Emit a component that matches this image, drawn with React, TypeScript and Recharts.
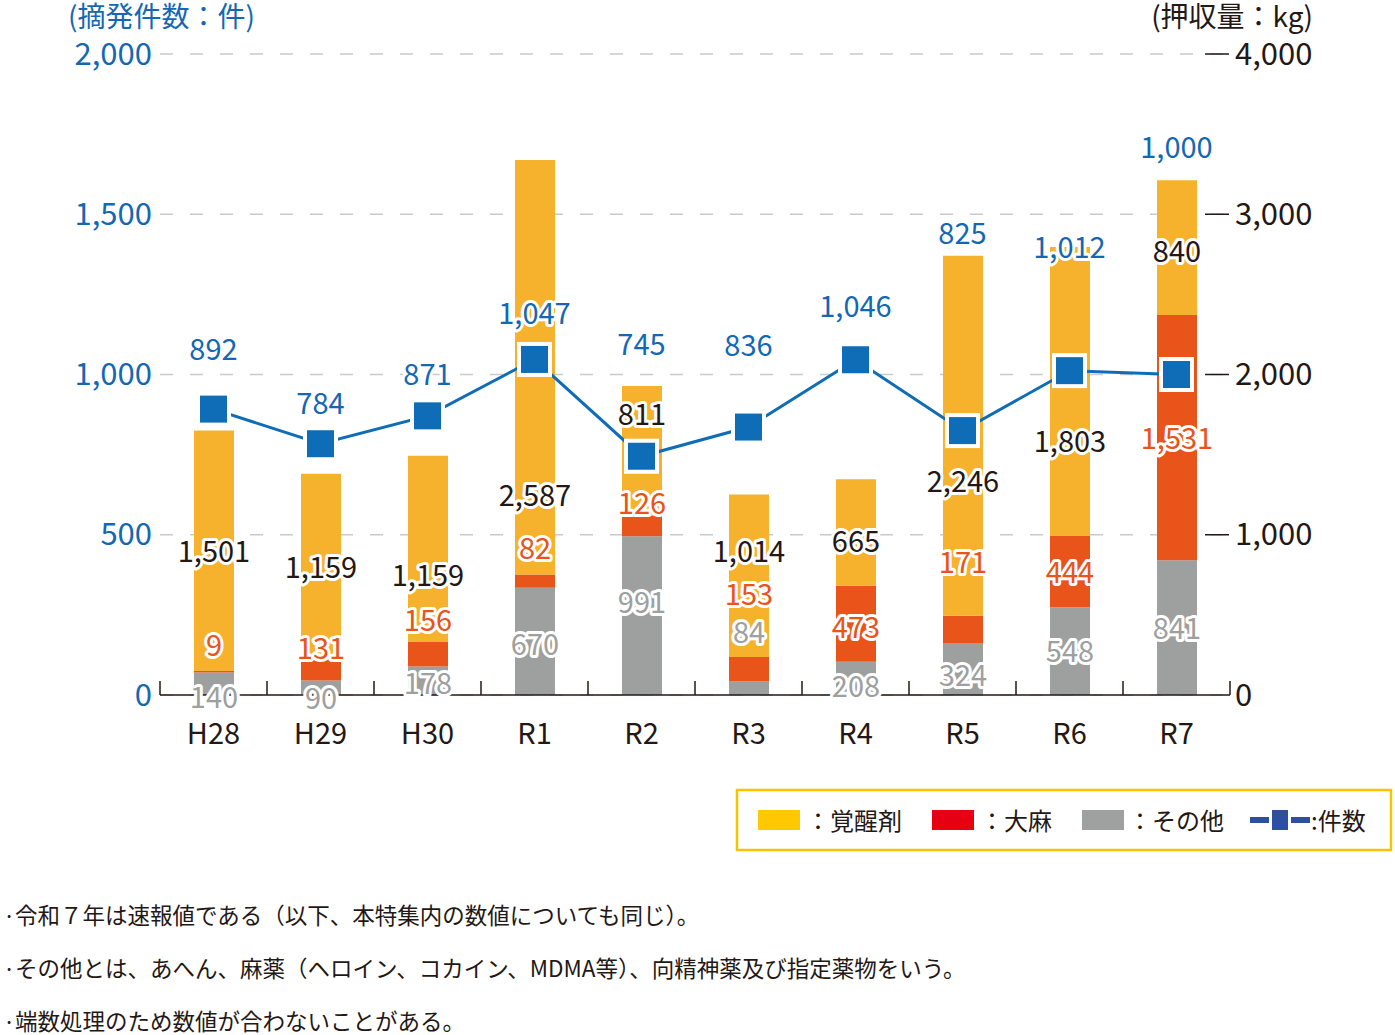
import React from "react";
import {
  ComposedChart,
  Bar,
  Line,
  XAxis,
  YAxis,
  CartesianGrid,
  LabelList,
} from "recharts";

const years = ["H28", "H29", "H30", "R1", "R2", "R3", "R4", "R5", "R6", "R7"];
// 摘発件数（件）
const cases = [892, 784, 871, 1047, 745, 836, 1046, 825, 1012, 1000];
// 押収量（kg）
const stimulants = [1501, 1159, 1159, 2587, 811, 1014, 665, 2246, 1803, 840];
const cannabis = [9, 131, 156, 82, 126, 153, 473, 171, 444, 1531];
const others = [140, 90, 178, 670, 991, 84, 208, 324, 548, 841];

const leftTicks = [0, 500, 1000, 1500, 2000];
const rightTicks = [0, 1000, 2000, 3000, 4000];

const notes = [
  "令和７年は速報値である（以下、本特集内の数値についても同じ）。",
  "その他とは、あへん、麻薬（ヘロイン、コカイン、MDMA等）、向精神薬及び指定薬物をいう。",
  "端数処理のため数値が合わないことがある。",
];

// label nudges (px) so the numbers sit where the original put them
const casesDy = [-60, -41, -42, -46, -112, -82, -54, -198, -124, -228];
const stimDy = [0, 0, 26, 128, -37, -25, 8, 45, 49, 3];
const canDy = [-27, -22, -34, -33, -23, -75, 3, -67, 0, 0];
const otherDy = [13, 10, 2, 3, -14, -56, 8, 6, 0, 0];

const data = years.map((name, i) => ({
  name,
  cases: cases[i],
  stimulants: stimulants[i],
  cannabis: cannabis[i],
  others: others[i],
}));

const FONT = "'Noto Sans CJK JP', 'Noto Sans', sans-serif";
const INK = "#231815";
const BLUE = "#1468b3";
const LINE_BLUE = "#0f6db8";
const YELLOW = "#f6b22c";
const ORANGE = "#e8541a";
const GRAY = "#9e9f9f";
const STEP = 107;

const fmt = (v: number) => v.toLocaleString("en-US");

const box = (p: any) => {
  const vb = p.viewBox || {};
  return {
    x: vb.x ?? p.x,
    y: vb.y ?? p.y,
    w: vb.width ?? p.width ?? 0,
    h: vb.height ?? p.height ?? 0,
  };
};

const outlined = (x: number, y: number, text: string, color: string) => (
  <text
    x={x}
    y={y - 2}
    textAnchor="middle"
    dominantBaseline="central"
    fontSize={29}
    fontFamily={FONT}
    fill={color}
    stroke="#fff"
    strokeWidth={6}
    strokeLinejoin="round"
    paintOrder="stroke"
  >
    {text}
  </text>
);

const segLabel = (values: number[], dy: number[], color: string) => (p: any) => {
  const b = box(p);
  const i = p.index;
  return outlined(b.x + b.w / 2, b.y + b.h / 2 + dy[i], fmt(values[i]), color);
};

const caseLabel = (p: any) => {
  const b = box(p);
  return outlined(b.x, b.y + casesDy[p.index], fmt(cases[p.index]), BLUE);
};

const XTick = (p: any) => {
  const half = STEP / 2;
  const last = p.payload.value === years[years.length - 1];
  return (
    <g>
      <line x1={p.x - half} x2={p.x - half} y1={p.y - 14} y2={p.y} stroke={INK} strokeWidth={1.5} />
      {last && <line x1={p.x + half} x2={p.x + half} y1={p.y - 14} y2={p.y} stroke={INK} strokeWidth={1.5} />}
      <text x={p.x} y={p.y + 36} textAnchor="middle" dominantBaseline="central" fontSize={29} fontFamily={FONT} fill={INK}>
        {p.payload.value}
      </text>
    </g>
  );
};

const LeftTick = (p: any) => (
  <text x={p.x - 8} y={p.y - 3} textAnchor="end" dominantBaseline="central" fontSize={31} fontFamily={FONT} fill={BLUE}>
    {fmt(p.payload.value)}
  </text>
);

const RightTick = (p: any) => (
  <g>
    {p.payload.value > 0 && (
      <line x1={p.x - 25} x2={p.x - 1} y1={p.y} y2={p.y} stroke={INK} strokeWidth={1.5} />
    )}
    <text x={p.x + 5} y={p.y - 3} textAnchor="start" dominantBaseline="central" fontSize={31} fontFamily={FONT} fill={INK}>
      {fmt(p.payload.value)}
    </text>
  </g>
);

const SquareDot = (p: any) => (
  <rect
    key={`dot-${p.index}`}
    x={p.cx - 15.5}
    y={p.cy - 15.5}
    width={31}
    height={31}
    fill={LINE_BLUE}
    stroke="#fff"
    strokeWidth={4}
  />
);

const App = () => {
  return (
    <div style={{ position: "absolute", left: 0, top: 0, width: 1395, height: 1035, fontFamily: FONT }}>
      <ComposedChart width={1395} height={755} data={data} margin={{ top: 54, right: 0, bottom: 0, left: 0 }}>
        <CartesianGrid xAxisId="main" yAxisId="left" vertical={false} stroke="#c9caca" strokeWidth={1.5} strokeDasharray="13 17" />
        <XAxis
          xAxisId="main"
          dataKey="name"
          height={60}
          interval={0}
          tickSize={0}
          tickMargin={0}
          tickLine={false}
          axisLine={{ stroke: INK, strokeWidth: 1.5 }}
          tick={<XTick />}
        />
        <XAxis xAxisId="lab" dataKey="name" orientation="top" height={0} hide />
        <YAxis
          yAxisId="left"
          domain={[0, 2000]}
          ticks={leftTicks}
          width={160}
          tickSize={0}
          tickMargin={0}
          axisLine={false}
          tickLine={false}
          tick={<LeftTick />}
        />
        <YAxis
          yAxisId="right"
          orientation="right"
          domain={[0, 4000]}
          ticks={rightTicks}
          width={165}
          tickSize={0}
          tickMargin={0}
          axisLine={false}
          tickLine={false}
          tick={<RightTick />}
        />
        <Bar xAxisId="main" yAxisId="right" dataKey="others" stackId="kg" fill={GRAY} barSize={40} isAnimationActive={false} />
        <Bar xAxisId="main" yAxisId="right" dataKey="cannabis" stackId="kg" fill={ORANGE} barSize={40} isAnimationActive={false} />
        <Bar xAxisId="main" yAxisId="right" dataKey="stimulants" stackId="kg" fill={YELLOW} barSize={40} isAnimationActive={false} />
        <Line
          xAxisId="main"
          yAxisId="left"
          dataKey="cases"
          stroke={LINE_BLUE}
          strokeWidth={3}
          dot={SquareDot}
          activeDot={false}
          isAnimationActive={false}
        >
          <LabelList dataKey="cases" content={caseLabel} />
        </Line>
        {/* transparent copies of the stack, drawn last so their labels stay on top */}
        <Bar xAxisId="lab" yAxisId="right" dataKey="others" stackId="lab" fill="transparent" barSize={40} isAnimationActive={false}>
          <LabelList dataKey="others" content={segLabel(others, otherDy, GRAY)} />
        </Bar>
        <Bar xAxisId="lab" yAxisId="right" dataKey="cannabis" stackId="lab" fill="transparent" barSize={40} isAnimationActive={false}>
          <LabelList dataKey="cannabis" content={segLabel(cannabis, canDy, ORANGE)} />
        </Bar>
        <Bar xAxisId="lab" yAxisId="right" dataKey="stimulants" stackId="lab" fill="transparent" barSize={40} isAnimationActive={false}>
          <LabelList dataKey="stimulants" content={segLabel(stimulants, stimDy, INK)} />
        </Bar>
      </ComposedChart>

      <svg
        width={1395}
        height={1035}
        style={{ position: "absolute", left: 0, top: 0, pointerEvents: "none" }}
        fontFamily={FONT}
      >
        <text x={68} y={15} dominantBaseline="central" fontSize={28} fill={BLUE}>
          (摘発件数：件)
        </text>
        <text x={1313} y={15} textAnchor="end" dominantBaseline="central" fontSize={28} fill={INK}>
          (押収量：kg)
        </text>

        <rect x={737} y={790} width={654} height={60} fill="#fff" stroke="#f8c300" strokeWidth={2.5} />
        <rect x={758} y={810} width={42} height={20} fill="#ffc800" />
        <text x={806} y={819} dominantBaseline="central" fontSize={24} fill={INK}>：覚醒剤</text>
        <rect x={932} y={810} width={42} height={20} fill="#e60012" />
        <text x={980} y={819} dominantBaseline="central" fontSize={24} fill={INK}>：大麻</text>
        <rect x={1082} y={810} width={42} height={20} fill="#9fa0a0" />
        <text x={1128} y={819} dominantBaseline="central" fontSize={24} fill={INK}>：その他</text>
        <rect x={1250} y={817} width={19} height={6} fill="#2e4fa0" />
        <rect x={1272} y={810} width={16} height={20} fill="#2e4fa0" />
        <rect x={1291} y={817} width={19} height={6} fill="#2e4fa0" />
        <text x={1311} y={819} dominantBaseline="central" fontSize={24} fill={INK}>:件数</text>

        {notes.map((n, i) => (
          <g key={n}>
            <text x={3} y={914 + i * 53} dominantBaseline="central" fontSize={22} fill={INK}>·</text>
            <text x={15} y={914 + i * 53} dominantBaseline="central" fontSize={22.5} fill={INK}>{n}</text>
          </g>
        ))}
      </svg>
    </div>
  );
};

export default App;
